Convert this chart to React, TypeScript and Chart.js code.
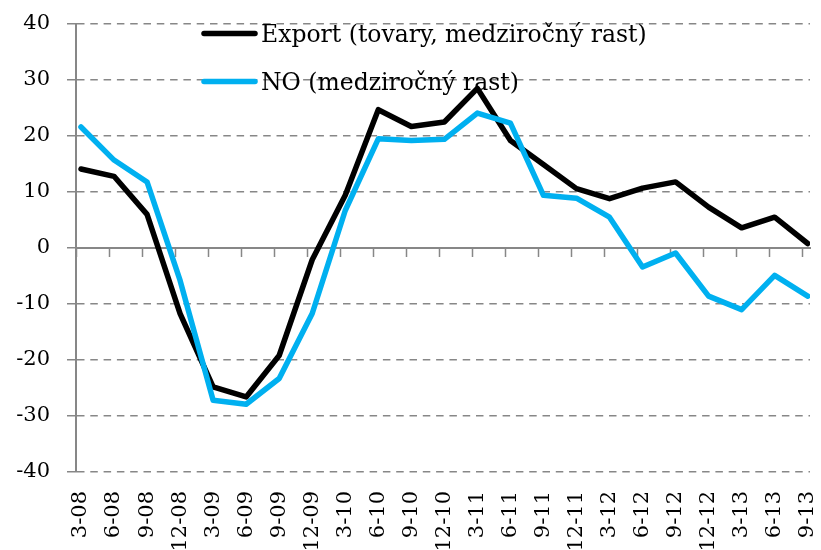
import React, { useEffect, useRef } from 'react';
import { Chart, registerables } from 'chart.js';

Chart.register(...registerables);

const categories = [
  '3-08', '6-08', '9-08', '12-08', '3-09', '6-09', '9-09', '12-09',
  '3-10', '6-10', '9-10', '12-10', '3-11', '6-11', '9-11', '12-11',
  '3-12', '6-12', '9-12', '12-12', '3-13', '6-13', '9-13',
];

const exportGrowth = [
  14.1, 12.8, 6.0, -11.7, -24.8, -26.6, -19.2, -2.1,
  9.4, 24.7, 21.7, 22.5, 28.5, 19.2, 14.9, 10.6,
  8.8, 10.7, 11.8, 7.3, 3.6, 5.5, 0.8,
];

const noGrowth = [
  21.6, 15.7, 11.8, -5.8, -27.2, -27.9, -23.3, -11.7,
  6.7, 19.5, 19.2, 19.4, 24.1, 22.3, 9.4, 8.9,
  5.5, -3.4, -0.9, -8.6, -11.0, -4.9, -8.6,
];

const yTicks = [-40, -30, -20, -10, 0, 10, 20, 30, 40];

const seriesLabels = ['Export (tovary, medziročný rast)', 'NO (medziročný rast)'];
const seriesColors = ['#000000', '#00B0F0'];

const GRAY = '#878787';
const FONT = "'DejaVu Serif'";

const insideLegend = {
  id: 'insideLegend',
  afterDatasetsDraw(chart: any) {
    const ctx = chart.ctx as CanvasRenderingContext2D;
    ctx.save();
    chart.data.datasets.forEach((ds: any, i: number) => {
      const yLine = 33.5 + i * 48;
      ctx.strokeStyle = ds.borderColor;
      ctx.lineWidth = 5.5;
      ctx.lineCap = 'round';
      ctx.beginPath();
      ctx.moveTo(204, yLine);
      ctx.lineTo(255, yLine);
      ctx.stroke();
      ctx.fillStyle = '#000';
      ctx.font = `23.5px ${FONT}`;
      ctx.textAlign = 'left';
      ctx.textBaseline = 'alphabetic';
      ctx.fillText(ds.label, 261, 42 + i * 48);
    });
    ctx.restore();
  },
};

export default function App() {
  const ref = useRef<HTMLCanvasElement>(null);

  useEffect(() => {
    document.body.style.margin = '0';
    const canvas = ref.current;
    if (!canvas) return;
    const categoryTicks = (axis: any) => {
      axis.ticks = categories.map((_, i) => ({ value: i }));
    };
    const chart = new Chart(canvas, {
      type: 'line',
      data: {
        datasets: [
          {
            label: seriesLabels[0],
            data: exportGrowth.map((v, i) => ({ x: i, y: v })),
            borderColor: seriesColors[0],
            backgroundColor: seriesColors[0],
            borderWidth: 5.5,
            pointRadius: 0,
            tension: 0,
            borderJoinStyle: 'round',
            borderCapStyle: 'round',
            order: 1,
          },
          {
            label: seriesLabels[1],
            data: noGrowth.map((v, i) => ({ x: i, y: v })),
            borderColor: seriesColors[1],
            backgroundColor: seriesColors[1],
            borderWidth: 5.5,
            pointRadius: 0,
            tension: 0,
            borderJoinStyle: 'round',
            borderCapStyle: 'round',
            order: 0,
          },
        ],
      },
      options: {
        responsive: false,
        animation: false,
        layout: { padding: { top: 24, right: 11, left: 0, bottom: 0 } },
        plugins: {
          legend: { display: false },
          tooltip: { enabled: false },
        },
        scales: {
          x: {
            type: 'linear',
            position: 'bottom',
            min: -0.151,
            max: 22.07,
            afterBuildTicks: categoryTicks,
            afterFit: (s: any) => {
              s.height = 78;
              s.paddingLeft = 0;
              s.paddingRight = 0;
            },
            grid: { display: false, drawTicks: false },
            border: { display: false },
            ticks: {
              autoSkip: false,
              minRotation: 90,
              maxRotation: 90,
              padding: 19,
              color: '#000',
              font: { family: FONT, size: 21 },
              callback: (v: any) => categories[v] ?? '',
            },
          },
          x2: {
            type: 'linear',
            axis: 'x',
            position: { y: 0 },
            min: 0,
            max: 22.24,
            afterBuildTicks: categoryTicks,
            afterFit: (s: any) => {
              s.paddingLeft = 0;
              s.paddingRight = 0;
            },
            grid: {
              drawOnChartArea: false,
              drawTicks: true,
              tickLength: 8,
              tickColor: GRAY,
              tickWidth: 1.5,
              color: GRAY,
            },
            border: { display: true, color: GRAY, width: 2 },
            ticks: { display: false },
          },
          y: {
            min: -40,
            max: 40,
            afterBuildTicks: (axis: any) => {
              axis.ticks = yTicks.map((v) => ({ value: v }));
            },
            afterFit: (s: any) => {
              s.width = 76;
              s.paddingTop = 0;
              s.paddingBottom = 0;
            },
            grid: {
              color: GRAY,
              lineWidth: 1.5,
              tickLength: 9,
              tickColor: GRAY,
              tickWidth: 1.5,
            },
            border: { display: true, color: GRAY, width: 2, dash: [7.5, 5.8] },
            ticks: {
              padding: 17,
              color: '#000',
              font: { family: FONT, size: 21 },
            },
          },
        },
      },
      plugins: [insideLegend],
    } as any);
    return () => chart.destroy();
  }, []);

  return (
    <div style={{ width: 821, height: 550 }}>
      <canvas ref={ref} width={821} height={550} style={{ display: 'block' }} />
    </div>
  );
}
